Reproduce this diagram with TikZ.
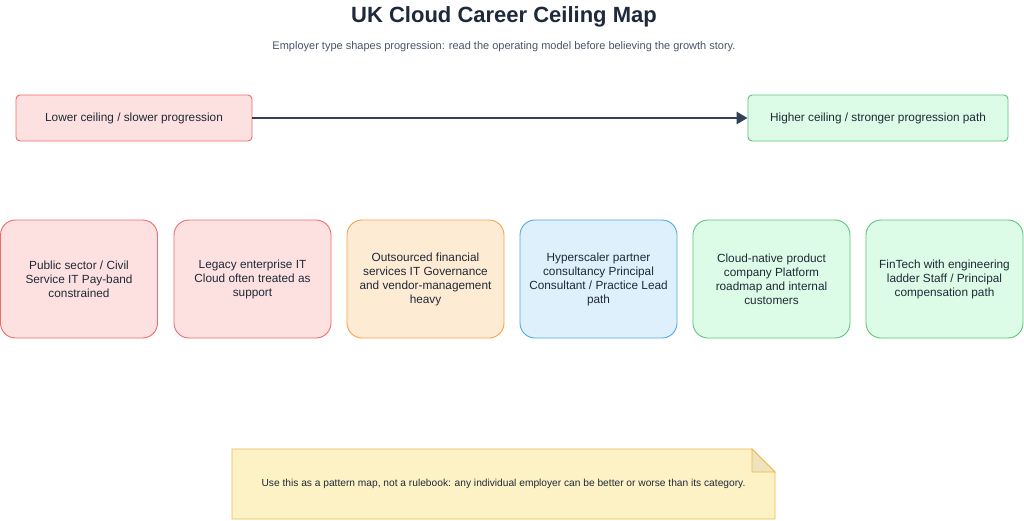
\documentclass[tikz,border=0pt]{standalone}
\usepackage{fontspec}
\setmainfont{Liberation Sans}
\usetikzlibrary{arrows.meta}
\definecolor{redfill}{HTML}{FDE1E1}
\definecolor{redline}{HTML}{EE6B6B}
\definecolor{grnfill}{HTML}{DCFCE7}
\definecolor{grnline}{HTML}{5CC37A}
\definecolor{orgfill}{HTML}{FEEBD4}
\definecolor{orgline}{HTML}{F9A04E}
\definecolor{blufill}{HTML}{DEF0FC}
\definecolor{bluline}{HTML}{4FA8E2}
\definecolor{notefill}{HTML}{FDF2C6}
\definecolor{noteline}{HTML}{F2B846}
\definecolor{foldfill}{HTML}{EFE3BE}
\definecolor{titlecol}{HTML}{1E293B}
\definecolor{subcol}{HTML}{475569}
\definecolor{textcol}{HTML}{1F2937}
\definecolor{arrowcol}{HTML}{334155}
\tikzset{
  endbox/.style={draw, line width=0.9pt, rounded corners=4pt, minimum height=46pt, inner sep=0pt, text height=9pt, text depth=3pt, font=\fontsize{11.8}{14}\selectfont, text=textcol},
  catbox/.style={draw, line width=0.9pt, rounded corners=15pt, minimum width=157pt, minimum height=118pt, inner sep=0pt, align=center, font=\fontsize{11.8}{14}\selectfont, text=textcol},
  redbox/.style={fill=redfill, draw=redline},
  grnbox/.style={fill=grnfill, draw=grnline},
  orgbox/.style={fill=orgfill, draw=orgline},
  blubox/.style={fill=blufill, draw=bluline},
}
\begin{document}
\begin{tikzpicture}[x=1pt,y=-1pt]
\useasboundingbox (0,0) rectangle (1024,520);
\node[font=\fontsize{22}{25}\selectfont\bfseries, text=titlecol] (title) at (504,17) {UK Cloud Career Ceiling Map};
\node[font=\fontsize{11}{13}\selectfont, text=subcol] (sub) at (504,47) {Employer type shapes progression: read the operating model before believing the growth story.};
\node[endbox, redbox, minimum width=236pt] (low) at (134,118) {Lower ceiling / slower progression};
\node[endbox, grnbox, minimum width=260pt] (high) at (878,118) {Higher ceiling / stronger progression path};
\draw[arrowcol, line width=2.8pt, -{Triangle[length=11pt,width=12pt]}] (low.east) -- (high.west);
\node[catbox, redbox] (c1) at (79,279) {Public sector / Civil\\Service IT Pay-band\\constrained};
\node[catbox, redbox] (c2) at (252.5,279) {Legacy enterprise IT\\Cloud often treated as\\support};
\node[catbox, orgbox] (c3) at (425.5,279) {Outsourced financial\\services IT Governance\\and vendor-management\\heavy};
\node[catbox, blubox] (c4) at (598.5,279) {Hyperscaler partner\\consultancy Principal\\Consultant / Practice Lead\\path};
\node[catbox, grnbox] (c5) at (771.5,279) {Cloud-native product\\company Platform\\roadmap and internal\\customers};
\node[catbox, grnbox] (c6) at (944.5,279) {FinTech with engineering\\ladder Staff / Principal\\compensation path};
\draw[noteline, fill=notefill, line width=0.9pt] (232,449) -- (752,449) -- (775,472) -- (775,519) -- (232,519) -- cycle;
\draw[noteline, fill=foldfill, line width=0.9pt] (752,449) -- (752,472) -- (775,472) -- cycle;
\node[font=\fontsize{10.2}{12}\selectfont, text=textcol] (note) at (503.5,484) {Use this as a pattern map, not a rulebook: any individual employer can be better or worse than its category.};
\end{tikzpicture}
\end{document}
